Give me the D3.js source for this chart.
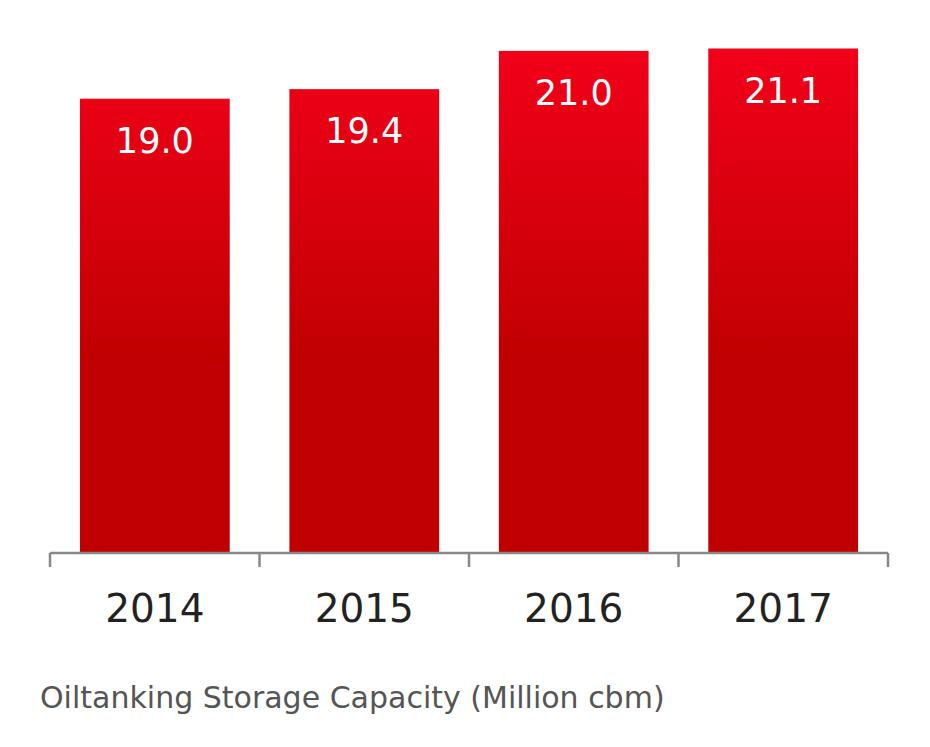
<!DOCTYPE html>
<html><head><meta charset="utf-8">
<script src="https://cdn.jsdelivr.net/npm/d3@7"></script>
<style>body{margin:0;background:#fff;}svg{display:block;}</style>
</head><body>
<script>
const categories = ["2014","2015","2016","2017"];
const values = [19.0, 19.4, 21.0, 21.1];
const valueLabels = ["19.0","19.4","21.0","21.1"];
const caption = "Oiltanking Storage Capacity (Million cbm)";

const W = 930, H = 747;
const svg = d3.select("body").append("svg").attr("width", W).attr("height", H);
const font = "Verdana, 'DejaVu Sans', sans-serif";

const x0 = 50, x1 = 888, yBase = 553;
const x = d3.scaleBand().domain(categories).range([x0, x1]).paddingInner(0.285).paddingOuter(0.143);
const y = d3.scaleLinear().domain([0, 21.1]).range([yBase, 48.5]);

const defs = svg.append("defs");
const grad = defs.append("linearGradient").attr("id","g").attr("gradientUnits","userSpaceOnUse")
  .attr("x1",0).attr("x2",0).attr("y1",45).attr("y2",360);
grad.append("stop").attr("offset","0%").attr("stop-color","#f2001a");
grad.append("stop").attr("offset","100%").attr("stop-color","#c00000");

svg.selectAll("rect.bar").data(values).enter().append("rect")
  .attr("x",(d,i)=>x(categories[i])).attr("width",x.bandwidth())
  .attr("y",d=>y(d)).attr("height",d=>yBase-y(d)).attr("fill","url(#g)");

svg.selectAll("text.val").data(values).enter().append("text")
  .attr("x",(d,i)=>x(categories[i])+x.bandwidth()/2).attr("y",d=>y(d)+54)
  .attr("text-anchor","middle").attr("fill","#fff").attr("font-family",font).attr("font-size",35)
  .text((d,i)=>valueLabels[i]);

// axis
const xa = d3.scalePoint().domain(d3.range(categories.length+1)).range([x0,x1]);
const g = svg.append("g");
g.append("line").attr("x1",x0).attr("x2",x1).attr("y1",yBase).attr("y2",yBase).attr("stroke","#888").attr("stroke-width",2.5);
g.selectAll("line.t").data(xa.domain()).enter().append("line")
  .attr("x1",d=>xa(d)).attr("x2",d=>xa(d)).attr("y1",yBase).attr("y2",yBase+14).attr("stroke","#888").attr("stroke-width",2.5);
g.selectAll("text.c").data(categories).enter().append("text")
  .attr("x",d=>x(d)+x.bandwidth()/2).attr("y",622).attr("text-anchor","middle")
  .attr("fill","#222").attr("font-family",font).attr("font-size",39).text(d=>d);

svg.append("text").attr("x",40).attr("y",708).attr("fill","#555").attr("font-family",font).attr("font-size",30).text(caption);
</script>
</body></html>
